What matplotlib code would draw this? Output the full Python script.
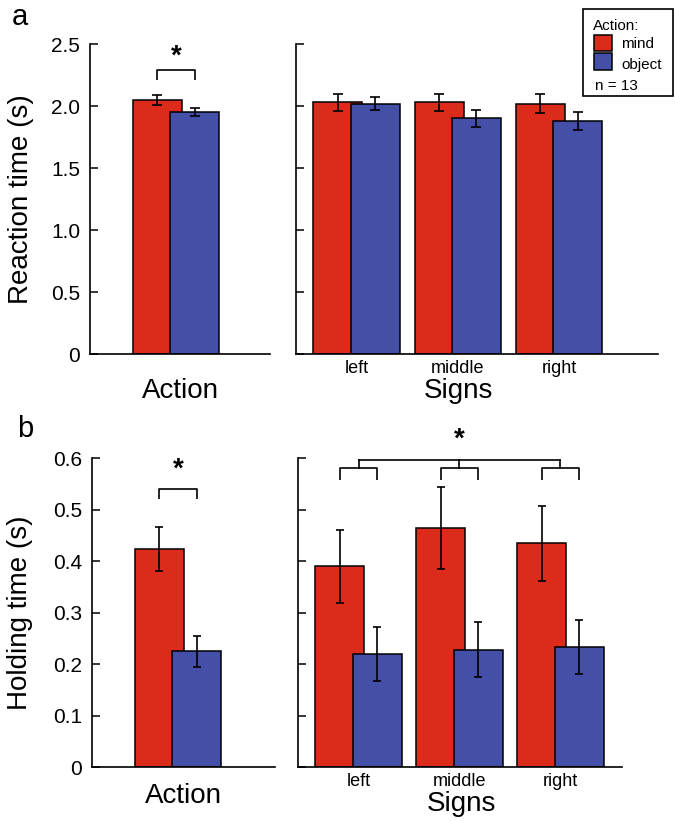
import matplotlib
matplotlib.use("Agg")
import matplotlib.pyplot as plt
from matplotlib.patches import Rectangle

plt.rcParams['font.family'] = ['Liberation Sans', 'DejaVu Sans']

RED = '#dc2b1b'
BLUE = '#4450a8'

# ---- data ----
signs = ['left', 'middle', 'right']

# reaction time (s): [mind, object]
rt_action_mean = [2.05, 1.95]
rt_action_err = [0.04, 0.03]
rt_signs_mind = [2.03, 2.03, 2.02]
rt_signs_mind_err = [0.07, 0.07, 0.08]
rt_signs_object = [2.02, 1.90, 1.88]
rt_signs_object_err = [0.055, 0.07, 0.07]

# holding time (s)
ht_action_mean = [0.423, 0.225]
ht_action_err = [0.043, 0.03]
ht_signs_mind = [0.39, 0.464, 0.434]
ht_signs_mind_err = [0.071, 0.079, 0.072]
ht_signs_object = [0.219, 0.228, 0.233]
ht_signs_object_err = [0.052, 0.054, 0.053]

rt_ticks = [0, 0.5, 1.0, 1.5, 2.0, 2.5]
rt_ticklabels = ['0', '0.5', '1.0', '1.5', '2.0', '2.5']
ht_ticks = [0, 0.1, 0.2, 0.3, 0.4, 0.5, 0.6]
ht_ticklabels = ['0', '0.1', '0.2', '0.3', '0.4', '0.5', '0.6']

W, H = 675, 821
OFF = 0.185   # half distance between mind / object bar centres
BW = 0.485


def px_axes(x0, y0, x1, y1):
    """axes rect from pixel box (top-left origin)"""
    return [x0 / W, 1 - y1 / H, (x1 - x0) / W, (y1 - y0) / H]


def style(ax, ylim, ticks, labels, show_ticklabels):
    for s in ('top', 'right'):
        ax.spines[s].set_visible(False)
    for s in ('left', 'bottom'):
        ax.spines[s].set_linewidth(1.2)
    ax.set_ylim(*ylim)
    ax.set_yticks(ticks)
    ax.set_yticklabels(labels if show_ticklabels else [])
    ax.tick_params(axis='y', direction='in', length=6, width=1.1,
                   labelsize=15, pad=7)
    ax.tick_params(axis='x', length=0, labelsize=13, pad=4)


def bars(ax, xs, mind, mind_err, obj, obj_err, capsize):
    xm = [x - OFF for x in xs]
    xo = [x + OFF for x in xs]
    ax.bar(xm, mind, BW, color=RED, edgecolor='black', linewidth=1.1, zorder=2)
    ax.bar(xo, obj, BW, color=BLUE, edgecolor='black', linewidth=1.1, zorder=2)
    ax.errorbar(xm, mind, yerr=mind_err, fmt='none', ecolor='black',
                elinewidth=1.2, capsize=capsize, capthick=1.2, zorder=3)
    ax.errorbar(xo, obj, yerr=obj_err, fmt='none', ecolor='black',
                elinewidth=1.2, capsize=capsize, capthick=1.2, zorder=3)


def bracket(ax, x0, x1, ytop, yleg):
    ax.plot([x0, x0, x1, x1], [yleg, ytop, ytop, yleg], color='black',
            lw=1.2, clip_on=False, solid_capstyle='butt')


def star(ax, x, y):
    ax.text(x, y, '*', ha='center', va='center', fontsize=20,
            fontweight='bold', clip_on=False)


fig = plt.figure(figsize=(W / 100, H / 100), dpi=100)

# ---------------- panel a ----------------
ax1 = fig.add_axes(px_axes(90, 44, 270, 354))
bars(ax1, [0], [rt_action_mean[0]], [rt_action_err[0]],
     [rt_action_mean[1]], [rt_action_err[1]], 3.5)
ax1.set_xlim(-0.85, 0.93)
ax1.set_xticks([])
style(ax1, (0, 2.5), rt_ticks, rt_ticklabels, True)
bracket(ax1, -OFF, OFF, 2.29, 2.21)
star(ax1, 0.0, 2.40)
ax1.set_ylabel('Reaction time (s)', fontsize=20)
ax1.yaxis.set_label_coords(-0.31, 0.5)
ax1.set_xlabel('Action', fontsize=20)
ax1.xaxis.set_label_coords(0.5, -0.142)
ax1.xaxis.label.set_verticalalignment('baseline')

ax2 = fig.add_axes(px_axes(296, 44, 658, 354))
xs = list(range(len(signs)))
bars(ax2, xs, rt_signs_mind, rt_signs_mind_err,
     rt_signs_object, rt_signs_object_err, 3.5)
ax2.set_xlim(-0.6, 2.98)
ax2.set_xticks(xs)
ax2.set_xticklabels(signs)
style(ax2, (0, 2.5), rt_ticks, rt_ticklabels, False)
ax2.set_xlabel('Signs', fontsize=20)
ax2.xaxis.set_label_coords(0.448, -0.142)
ax2.xaxis.label.set_verticalalignment('baseline')

# ---------------- panel b ----------------
ax3 = fig.add_axes(px_axes(92, 458, 275, 767))
bars(ax3, [0], [ht_action_mean[0]], [ht_action_err[0]],
     [ht_action_mean[1]], [ht_action_err[1]], 2.7)
ax3.set_xlim(-0.85, 0.96)
ax3.set_xticks([])
style(ax3, (0, 0.6), ht_ticks, ht_ticklabels, True)
bracket(ax3, -OFF, OFF, 0.540, 0.520)
star(ax3, 0.0, 0.577)
ax3.set_ylabel('Holding time (s)', fontsize=20)
ax3.yaxis.set_label_coords(-0.322, 0.5)
ax3.set_xlabel('Action', fontsize=20)
ax3.xaxis.set_label_coords(0.5, -0.1165)
ax3.xaxis.label.set_verticalalignment('baseline')

ax4 = fig.add_axes(px_axes(298, 458, 622, 767))
bars(ax4, xs, ht_signs_mind, ht_signs_mind_err,
     ht_signs_object, ht_signs_object_err, 2.7)
ax4.set_xlim(-0.6, 2.61)
ax4.set_xticks(xs)
ax4.set_xticklabels(signs)
style(ax4, (0, 0.6), ht_ticks, ht_ticklabels, False)
for x in xs:
    bracket(ax4, x - OFF, x + OFF, 0.581, 0.557)
    ax4.plot([x, x], [0.581, 0.596], color='black', lw=1.2, clip_on=False)
ax4.plot([xs[0], xs[-1]], [0.596, 0.596], color='black', lw=1.2, clip_on=False)
star(ax4, xs[1], 0.635)
ax4.set_xlabel('Signs', fontsize=20)
ax4.xaxis.set_label_coords(0.503, -0.142)
ax4.xaxis.label.set_verticalalignment('baseline')

# panel letters
fig.text(12 / W, 1 - 25 / H, 'a', fontsize=21, va='baseline')
fig.text(17 / W, 1 - 437 / H, 'b', fontsize=21, va='baseline')

# legend box (drawn by hand to match the original layout)
def fx(x):
    return x / W


def fy(y):
    return 1 - y / H


fig.patches.append(Rectangle((fx(583), fy(96)), (673 - 583) / W, (96 - 9) / H,
                             transform=fig.transFigure, fill=False,
                             edgecolor='black', linewidth=1.2))
fig.text(fx(593), fy(30), 'Action:', fontsize=11, va='baseline')
fig.patches.append(Rectangle((fx(594), fy(51)), 18 / W, 15.5 / H,
                             transform=fig.transFigure, facecolor=RED,
                             edgecolor='black', linewidth=1.1))
fig.text(fx(621), fy(48), 'mind', fontsize=11, va='baseline')
fig.patches.append(Rectangle((fx(594), fy(70)), 18 / W, 16.5 / H,
                             transform=fig.transFigure, facecolor=BLUE,
                             edgecolor='black', linewidth=1.1))
fig.text(fx(621), fy(68.5), 'object', fontsize=11, va='baseline')
fig.text(fx(595), fy(90), 'n = 13', fontsize=11, va='baseline')

fig.savefig('out.png', dpi=100)
